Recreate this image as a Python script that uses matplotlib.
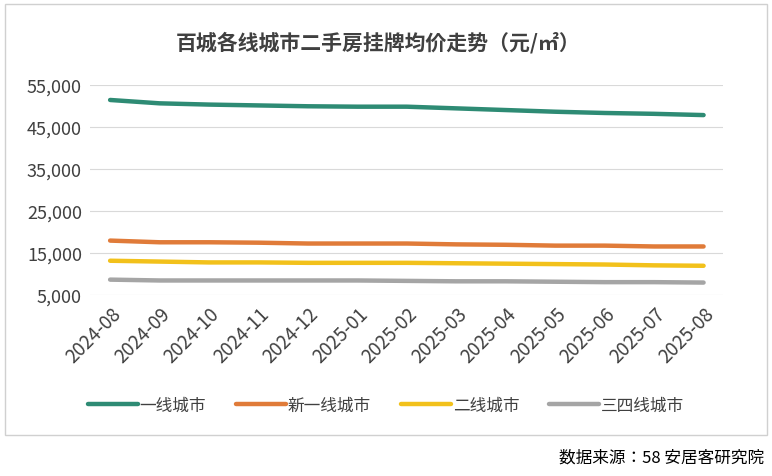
import matplotlib
matplotlib.use("Agg")
import matplotlib.pyplot as plt
from matplotlib.patches import Rectangle
from matplotlib import font_manager as fm

names = {f.name for f in fm.fontManager.ttflist}
cjk = None
for cand in ["Noto Sans CJK SC", "Noto Sans CJK JP", "Noto Sans CJK TC", "Noto Sans CJK KR"]:
    if cand in names:
        cjk = cand
        break
if cjk is None:
    for n in sorted(names):
        if "Sans CJK" in n:
            cjk = n
            break
plt.rcParams['font.family'] = [cjk, 'DejaVu Sans'] if cjk else ['DejaVu Sans']

months = ["2024-08","2024-09","2024-10","2024-11","2024-12","2025-01","2025-02",
          "2025-03","2025-04","2025-05","2025-06","2025-07","2025-08"]
tier1 = [51400,50600,50300,50100,49900,49800,49800,49400,49000,48600,48300,48100,47800]
new_tier1 = [17900,17500,17500,17400,17200,17200,17200,17000,16900,16700,16700,16500,16500]
tier2 = [13100,12900,12700,12700,12600,12600,12600,12500,12400,12300,12200,12000,11900]
tier34 = [8600,8400,8400,8400,8400,8400,8300,8200,8200,8100,8000,8000,7900]
series_names = ["一线城市","新一线城市","二线城市","三四线城市"]
colors = ["#2e8b74","#e07b39","#f2c11b","#a5a5a5"]
yticks = [5000,15000,25000,35000,45000,55000]

fig = plt.figure(figsize=(7.72,4.77), dpi=100)
fig.patches.append(Rectangle((0.007,0.085),0.987,0.905, transform=fig.transFigure,
                             fill=False, edgecolor="#d0d0d0", lw=1))
ax = fig.add_axes([0.117,0.38,0.82,0.44])
x = list(range(len(months)))
for vals, c, n in zip([tier1,new_tier1,tier2,tier34], colors, series_names):
    ax.plot(x, vals, color=c, lw=3.2, label=n, solid_capstyle='round')
ax.set_ylim(5000,55000)
ax.set_yticks(yticks)
ax.set_yticklabels([f"{v:,}" for v in yticks], fontsize=13, color="#404040")
ax.set_xlim(-0.4,12.4)
ax.set_xticks(x)
ax.set_xticklabels(months, rotation=45, ha='right', rotation_mode='anchor', fontsize=13.5, color="#404040")
ax.grid(axis='y', color="#d9d9d9", lw=0.8)
for s in ax.spines.values(): s.set_visible(False)
ax.tick_params(length=0, pad=6)
ax.set_axisbelow(True)
fig.text(0.49,0.91,"百城各线城市二手房挂牌均价走势（元/㎡）", ha='center', va='center',
         fontsize=15, fontweight='bold', color="#404040")
fig.legend(loc='center', bbox_to_anchor=(0.5,0.148), ncol=4, frameon=False,
           fontsize=12, handlelength=3, handletextpad=0.1, columnspacing=1.8, labelcolor="#404040")
fig.text(0.99,0.04,"数据来源：58 安居客研究院", ha='right', va='center', fontsize=12, color="#000000")
fig.savefig("out.png", dpi=100)
